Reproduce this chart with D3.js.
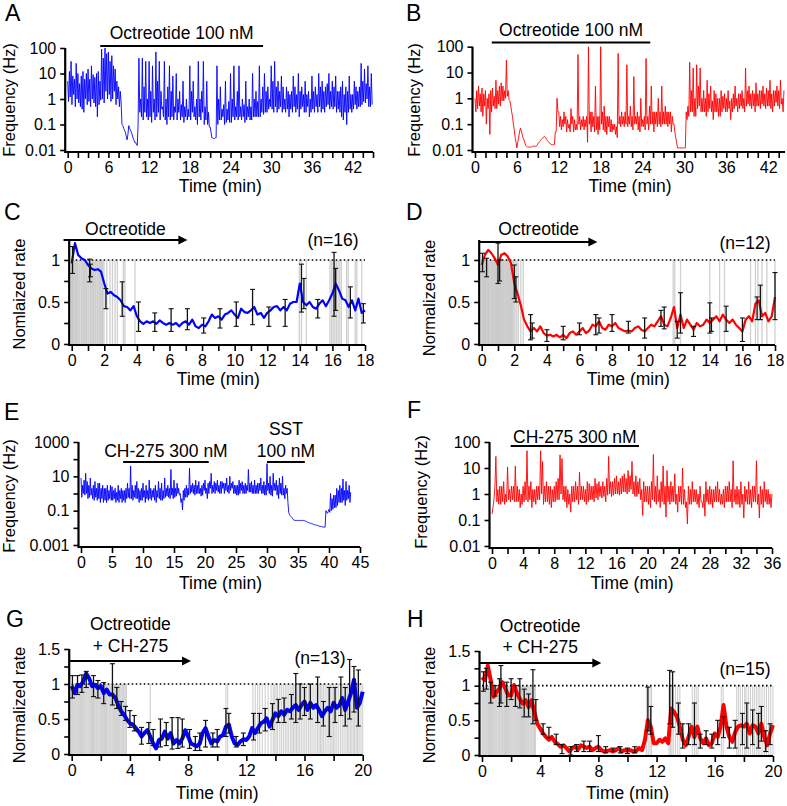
<!DOCTYPE html>
<html><head><meta charset="utf-8">
<script src="https://cdn.jsdelivr.net/npm/d3@7"></script>
<style>body{margin:0;background:#fff} svg{display:block}</style>
</head><body><svg id="c" width="787" height="806"></svg>
<script>
// ================= DATA =================
// Panel A/B/E/F: instantaneous frequency (Hz), sampled every traceStep (min)
const traceStep = 0.125;
const aFreq = [
5,0.8,12,1.2,30,0.6,8,1.5, 6,0.5,25,1,10,0.7,4,0.5, 8,0.4,12,0.3,6,1,10,0.6, 15,0.8,6,0.5,20,1,9,0.7, 7,0.5,10,0.2,12,0.6,5,0.9,
90,1,40,0.7,100,2,60,1, 70,1.5,30,0.8,50,1,20,2, 15,0.6,5,1,3,0.5,2,0.7, 0.1,0.09,0.07,0.06,0.05,0.035,0.025,0.04, 0.09,0.07,0.06,0.05,0.04,0.03,0.025,0.02,
0.02,0.017,0.015,0.1,40,0.3,1,0.2, 40,0.15,3,0.3,30,0.2,1,0.15, 30,0.2,2,0.12,20,0.3,1,0.15, 70,0.2,5,0.3,30,0.15,2,0.4, 0.5,0.2,30,0.15,1,0.1,3,0.2,
20,0.15,2,0.2,8,0.15,0.5,0.3, 10,0.15,1,0.3,2,0.15,0.6,0.2, 5,0.12,0.5,0.2,1,0.15,0.4,0.2, 20,0.15,2,0.3,5,0.2,0.5,0.15, 1,0.1,30,0.2,1,0.15,2,0.3,
30,0.1,0.5,0.15,5,0.1,0.3,0.08, 0.08,0.05,0.03,0.03,0.028,0.028,0.03,0.03, 20,0.1,1,0.15,3,0.15,0.4,0.2, 0.6,0.1,5,0.12,0.4,0.15,0.8,0.12, 10,0.12,1,0.2,20,0.15,0.5,0.2,
2,0.15,20,0.2,0.5,0.15,1,0.2, 0.6,0.12,5,0.15,0.5,0.2,1,0.15, 0.5,0.15,10,0.2,1,0.2,2,0.2, 0.8,0.2,20,0.2,1,0.3,3,0.25, 10,0.3,2,0.3,3,0.4,1,0.5,
20,0.4,5,0.3,30,0.5,3,0.3, 5,0.4,2,0.5,8,0.3,3,0.4, 1,0.3,3,0.4,2,0.2,1.5,0.4, 2,0.3,8,0.5,3,0.3,1.5,0.4, 10,0.2,2,0.4,3,0.5,1.5,0.3,
5,0.3,1.5,0.5,2,0.2,1,0.3, 8,0.4,2,0.3,3,0.5,1.5,0.3, 10,0.5,3,0.3,5,0.4,2,0.3, 3,0.5,4,0.6,10,0.4,2,0.5, 5,0.4,3,0.5,8,0.3,2,0.4,
2,0.3,3,0.2,5,0.15,1.5,0.3, 3,0.1,2,0.3,8,0.4,1.5,0.3, 1.5,0.4,5,0.6,3,0.4,2,0.5, 3,0.5,25,0.6,5,0.8,15,0.7, 4,1,20,0.5,3,0.5,10,0.6
];
const bFreq = [
1,0.3,2,0.4,3,0.5,1.5,0.3, 2.5,0.2,1.5,0.5,2,0.1,1,0.4, 1.5,0.04,2,0.3,2.5,0.5,1.2,0.4, 5,0.4,2,0.6,3,0.5,4,0.8, 3,0.8,2,1,30,1.2,2,0.9,
0.8,0.5,0.3,0.2,0.1,0.06,0.03,0.02, 0.012,0.02,0.03,0.05,0.07,0.055,0.04,0.03, 0.025,0.02,0.015,0.014,0.013,0.013,0.013,0.013, 0.013,0.013,0.014,0.014,0.014,0.014,0.014,0.015, 0.017,0.019,0.021,0.023,0.026,0.028,0.03,0.032,
0.033,0.03,0.026,0.023,0.021,0.019,0.018,0.017, 0.016,0.016,0.016,0.016,0.05,0.05,1,0.3, 0.3,0.08,0.2,0.06,0.15,0.08,0.3,0.1, 0.2,0.05,0.15,0.07,0.1,0.05,0.4,0.1, 0.2,0.05,0.15,0.06,0.1,0.06,50,0.1,
0.2,0.06,0.15,0.08,0.2,0.06,0.15,0.08, 0.2,0.02,100,0.1,0.3,0.05,0.3,0.08, 0.2,0.05,3,0.06,0.2,0.04,0.2,0.06, 100,0.1,0.3,0.06,0.5,0.05,0.2,0.04, 0.2,0.08,0.2,0.05,0.15,0.05,0.1,0.06,
0.1,0.04,0.08,0.03,55,0.1,0.2,0.08, 0.3,0.1,0.2,0.08,0.3,0.1,20,0.08, 0.2,0.1,0.5,0.08,0.2,0.06,7,0.1, 0.2,0.1,0.3,0.06,0.2,0.05,1,0.08, 0.15,0.08,0.2,0.06,35,0.1,0.2,0.06,
0.5,0.1,3,0.1,0.3,0.05,0.3,0.1, 0.3,0.08,1,0.1,0.3,0.08,3,0.1, 0.3,0.1,0.5,0.1,0.3,0.08,0.3,0.1, 0.3,0.05,0.2,0.1,0.1,0.05,0.03,0.02, 0.012,0.012,0.012,0.012,0.012,0.012,0.012,0.012,
0.012,0.012,0.3,0.15,0.5,0.2,25,0.3, 2,0.3,15,0.2,1,0.2,20,0.4, 3,0.5,15,0.3,1,0.3,2,0.3, 1,0.2,5,0.3,1.5,0.4,3,0.3, 0.8,0.15,2,0.3,1.5,0.3,1,0.2,
1,0.2,2,0.3,1.2,0.4,1.5,0.3, 1,0.3,2,0.4,0.8,0.15,1,0.3, 1.5,0.4,3,0.5,1,0.3,1.5,0.4, 1.5,0.5,2,0.4,1,0.3,15,0.5, 2,0.6,3,0.5,1.5,0.4,2,0.5,
1.5,0.3,4,0.5,1.5,0.5,2,0.4, 2,0.6,3,0.5,1.5,0.4,2.5,0.5, 2,0.5,5,0.4,1.5,0.3,2,0.5, 2,0.7,3,0.5,2,0.4,5,0.6, 1,0.3,2
];
const eFreq = [
8,0.6,3,1,6,0.8,15,1, 5,0.5,3,0.6,8,0.8,2,0.5, 3,0.4,5,0.6,2,0.4,4,0.5, 4,0.3,2,0.5,3,0.3,2,0.4, 2,0.3,3,0.4,1.5,0.5,3,0.4,
2.5,0.4,1.5,0.5,2,0.3,1.2,0.4, 3,0.3,1.5,0.5,2,0.3,1.5,0.4, 1.5,0.3,2,0.5,4,0.6,2,0.5, 40,0.5,3,0.4,1.5,0.6,3,0.5, 5,0.5,2,0.3,1.5,0.4,2,0.4,
4,0.6,1.5,0.3,3,0.5,1.5,0.4, 6,0.5,2,0.4,1.5,0.6,2,0.4, 3,0.3,1.5,0.6,5,0.5,2,0.4, 4,0.4,1.5,0.5,8,0.6,2,0.7, 3,0.6,2,0.5,25,0.8,2,0.5,
6,0.6,2,0.7,4,1,2,0.8, 1,0.3,0.5,0.11,1.5,0.4,2,0.6, 3,0.6,2,0.8,30,1,3,1.2, 4,1,3,0.8,6,1,3,1, 5,1,2,0.7,3,0.8,4,1.5,
6,1,2,0.5,4,1,5,2, 15,1,3,1.2,5,1,4,1.5, 6,1.2,3,1,5,1,5,2, 4,1,4,1.5,8,1.2,3,1, 10,1.5,4,2,5,1,3,1,
3,0.8,3,0.8,6,1,4,1.5, 5,1,3,1,4,1,3,1.5, 25,1.2,4,1.2,5,1,3,1, 6,1,3,1,4,1,4,1.5, 8,1,3,1,5,0.8,3,0.8,
55,1.5,4,1,10,0.8,3,0.7, 15,1.5,4,1.5,6,0.8,3,0.5, 8,1,4,0.8,10,0.8,2,0.5, 3,1,2,0.3,0.08,0.06,0.05,0.045, 0.04,0.035,0.03,0.028,0.027,0.027,0.027,0.027,
0.027,0.027,0.027,0.027,0.027,0.027,0.027,0.027, 0.027,0.025,0.024,0.023,0.022,0.021,0.02,0.019, 0.019,0.018,0.017,0.017,0.016,0.015,0.015,0.015, 0.014,0.014,0.013,0.013,0.012,0.012,0.012,0.012, 0.011,0.011,0.011,0.011,0.1,0.08,0.07,0.09,
0.12,0.08,1,0.1,0.5,0.12,0.8,0.15, 0.8,0.15,2,0.2,1.5,0.3,3,0.3, 2,0.3,7,0.4,1.5,0.2,5,0.4, 1.5,0.5,3,0.3,1.2
];
const fFreq = [
0.17,0.3,0.6,2,28,0.5,1.5,0.4, 2,0.4,2,0.5,3,0.4,1,0.5, 11,0.6,1.5,0.5,2,0.6,2,0.5, 12,0.5,2,0.5,1.5,0.3,1,0.4, 2,0.5,3,0.6,46,0.5,2,0.6,
3,0.3,1.5,0.5,1.5,0.4,2,0.6, 2,0.6,46,1,18,0.4,2,0.5, 3,0.5,2,0.4,2,0.3,1.5,0.5, 2,0.5,3,0.6,4,0.6,32,1, 23,0.6,2,0.5,2,0.3,1.5,0.4,
1,0.2,2,0.5,2,0.5,3,0.6, 2,0.4,7,0.6,2,0.6,2,0.5, 1.5,0.4,3,0.5,2.5,0.6,2,0.6, 2,0.5,4,0.7,2.5,0.6,3,0.8, 2,0.7,3,0.8,2,0.5,4,0.9,
28,1,3,0.8,3,0.9,4,1, 5,1,3,0.9,4,1,5,1.2, 6,1.2,4,1,8,1.2,5,1.5, 18,1,3,0.8,5,0.8,3,1, 4,0.6,1.5,0.15,3,0.5,2,0.5,
2,0.4,2,0.3,3,0.6,33,0.5, 2,0.4,5,0.5,1.5,0.3,3,0.5, 12,0.4,2,0.13,8,0.5,2,0.4, 3,0.5,2,0.5,6,0.4,1,0.2, 2,0.5,2,0.4,10,0.4,1.5,0.3,
0.5,0.07,2,0.4,1.5,0.4,3,0.5, 1.5,0.5,1.5,0.4,1,0.3,2,0.5, 0.5,0.3,1,0.14,3,0.5,1.5,0.4, 2,0.4,1.5,0.3,1.5,0.5,2,0.5, 3,0.5,1.5,0.4,1,0.4,1.5,0.3,
2,0.5,2,0.5,3,0.5,1.5,0.3, 19,0.5,1.5,0.4,2,0.4,1.5,0.3, 3,0.4,1,0.12,2,0.5,1.5,0.4, 3,0.4,1.5,0.3,2,0.5,2,0.5, 19,0.4,1,0.12,2,0.4,1.5,0.3,
3,0.5,1.5,0.4,1.5,0.4,1,0.3, 1
];

// Drug application intervals (min)
const aDrug = [4.8, 28.8];
const bDrug = [2.4, 25.1];
const eDrugCH = [6.8, 20.6];
const eDrugSST = [30, 36.1];
const fDrug = [2.4, 18.9];
const cArrow = [-0.5, 7.1];
const dArrow = [-0.1, 7.1];
const gArrow = [-0.12, 8.2];
const hArrow = [-0.2, 8.2];

// Panels C/D/G/H: normalized rate, sampled every rateStep (min)
const rateStep = 0.2;
const cRate = [0.96,1.2,1.06,1.02,1.0,0.94,0.9,0.88,0.89,0.86,0.72,0.6,0.62,0.58,0.56,0.52,0.45,0.44,0.40,0.45,
0.33,0.27,0.24,0.27,0.25,0.27,0.24,0.28,0.25,0.23,0.25,0.23,0.25,0.21,0.25,0.27,0.23,0.29,0.21,0.19,
0.23,0.21,0.27,0.35,0.31,0.33,0.29,0.35,0.37,0.40,0.35,0.31,0.42,0.38,0.37,0.40,0.44,0.35,0.37,0.31,
0.37,0.40,0.44,0.45,0.40,0.44,0.40,0.48,0.50,0.50,0.72,0.50,0.46,0.50,0.44,0.42,0.48,0.52,0.45,0.52,
0.60,0.72,0.64,0.54,0.52,0.44,0.52,0.40,0.54,0.37,0.40];
const dRate = [0.94,1.06,1.12,1.08,1.02, 0.94,1.06,1.08,1.04,0.96, 0.72,0.60,0.46,0.29,0.21, 0.15,0.19,0.15,0.21,0.13,
0.10,0.11,0.09,0.11,0.08, 0.11,0.07,0.13,0.15,0.11, 0.15,0.19,0.13,0.16,0.23, 0.21,0.27,0.19,0.17,0.23,
0.21,0.25,0.19,0.17,0.15, 0.16,0.15,0.19,0.21,0.17, 0.15,0.19,0.23,0.21,0.27, 0.33,0.23,0.21,0.31,0.44,
0.19,0.35,0.19,0.29,0.23, 0.17,0.25,0.21,0.23,0.29, 0.25,0.29,0.33,0.27,0.35, 0.29,0.25,0.29,0.23,0.19,
0.15,0.29,0.33,0.27,0.48, 0.52,0.33,0.37,0.27,0.33, 0.56];
const gRate = [0.97,0.87,0.99,0.97,1.04, 1.15,1.08,0.97,0.99,0.94, 0.97,0.87,0.92,0.85,0.85, 0.80,0.70,0.61,0.56,0.49,
0.44,0.42,0.37,0.32,0.25, 0.30,0.34,0.25,0.15,0.08, 0.20,0.22,0.32,0.22,0.30, 0.15,0.20,0.15,0.22,0.34,
0.25,0.15,0.13,0.11,0.15, 0.30,0.37,0.25,0.15,0.20, 0.18,0.25,0.27,0.39,0.42, 0.25,0.15,0.13,0.18,0.21,
0.20,0.25,0.37,0.30,0.37, 0.44,0.46,0.51,0.39,0.49, 0.58,0.54,0.61,0.56,0.63, 0.61,0.66,0.70,0.63,0.70,
0.75,0.63,0.73,0.66,0.70, 0.63,0.54,0.61,0.66,0.61, 0.73,0.66,0.70,0.80,0.63, 0.75,0.87,1.06,0.66,0.73, 0.89];
const hRate = [1.12,1.08,1.29,1.08,0.84, 0.91,0.96,1.05,0.96,0.86, 0.86,1.01,0.89,0.81,0.74, 0.79,0.69,0.79,0.62,0.45,
0.38,0.31,0.26,0.22,0.26, 0.19,0.16,0.12,0.14,0.10, 0.05,0.10,0.12,0.08,0.14, 0.12,0.10,0.12,0.07,0.10,
0.12,0.07,0.05,0.06,0.07, 0.05,0.07,0.10,0.05,0.07, 0.06,0.07,0.05,0.06,0.10, 0.07,0.22,0.50,0.41,0.17,
0.17,0.22,0.19,0.24,0.17, 0.67,0.62,0.55,0.41,0.22, 0.14,0.26,0.41,0.26,0.41, 0.24,0.17,0.24,0.14,0.17,
0.31,0.26,0.41,0.72,0.41, 0.26,0.19,0.33,0.41,0.43, 0.41,0.45,0.31,0.43,0.41, 0.31,0.45,0.26,0.14,0.31, 0.43];

// Error bars (time, low, high)
const cErrT  = [0.05,1.1,1.15,2.1,3.1,4.1,5.1,6.1,7.1,8.1,9.1,10.1,11.1,12.1,13.1,14.1,14.25,15.1,16.1,16.2,17.1,17.9];
const cErrLo = [0.84,0.74,0.80,0.42,0.33,0.15,0.15,0.15,0.17,0.13,0.19,0.21,0.23,0.21,0.21,0.38,0.42,0.31,0.33,0.40,0.31,0.25];
const cErrHi = [1.16,1.01,0.95,0.66,0.74,0.50,0.37,0.42,0.42,0.31,0.42,0.50,0.65,0.44,0.53,0.95,0.78,0.53,1.09,0.90,0.68,0.48];
const dErrT  = [0.05,0.3,1.0,1.1,2.0,2.1,3.0,3.1,4.0,5.0,6.0,7.0,7.2,8.0,9.0,10.0,11.0,11.2,12.0,12.2,13.0,14.0,14.1,15.0,16.0,16.9,17.1,18.0];
const dErrLo = [0.86,0.80,0.72,0.75,0.54,0.50,0.05,0.07,0.03,0.05,0.11,0.11,0.13,0.15,0.13,0.07,0.21,0.18,0.07,0.13,0.09,0.13,0.15,0.15,0.03,0.29,0.29,0.29];
const dErrHi = [1.08,1.02,1.20,1.00,0.94,0.80,0.35,0.25,0.17,0.21,0.25,0.35,0.31,0.35,0.27,0.31,0.40,0.44,0.27,0.61,0.21,0.49,0.31,0.45,0.31,0.56,0.70,0.85];
const gErrT  = [0.05,0.4,0.7,1.0,1.5,1.8,2.2,2.8,3.1,3.4,3.7,4.0,4.3,4.8,5.3,5.6,6.1,6.5,6.9,7.3,7.6,8.1,8.5,8.8,9.2,9.7,10.0,10.6,10.8,11.3,11.8,12.5,12.9,13.3,13.8,14.2,14.6,15.1,15.4,15.7,16.0,16.4,16.9,17.3,17.7,18.1,18.5,18.8,19.1,19.4,19.7];
const gErrLo = [0.80,0.85,0.88,0.95,0.82,0.80,0.72,0.70,0.65,0.55,0.48,0.38,0.33,0.14,0.15,0.12,0.10,0.12,0.07,0.08,0.10,0.08,0.05,0.05,0.10,0.10,0.10,0.25,0.30,0.10,0.12,0.20,0.30,0.33,0.35,0.45,0.45,0.50,0.45,0.50,0.55,0.50,0.45,0.40,0.25,0.45,0.55,0.40,0.50,0.60,0.40];
const gErrHi = [1.12,1.12,1.13,1.18,1.12,1.05,1.02,1.29,0.95,0.75,0.68,0.62,0.55,0.38,0.45,0.35,0.50,0.45,0.52,0.52,0.50,0.35,0.25,0.30,0.48,0.30,0.35,0.65,0.58,0.25,0.30,0.58,0.58,0.65,0.72,0.78,0.80,0.85,1.15,1.00,0.95,1.00,1.10,0.75,0.95,0.95,1.10,0.95,1.35,1.25,1.20];
const hErrT  = [0.1,0.3,0.6,0.9,1.2,1.3,1.7,2.0,2.3,2.6,2.9,3.2,3.5,3.7,4.2,4.6,5.1,5.5,6.1,6.5,7.0,7.4,8.0,8.5,9.0,9.5,10.0,10.5,11.4,11.6,12.9,13.1,13.5,13.8,14.2,14.6,15.0,15.4,15.8,16.2,16.6,17.0,17.4,17.9,18.2,18.6,19.0,19.2,19.5,19.8];
const hErrLo = [0.92,0.95,0.75,0.85,0.70,0.75,0.70,0.80,0.70,0.68,0.55,0.55,0.45,0.50,0.30,0.25,0.15,0.02,0.00,0.05,0.05,0.05,0.05,0.03,0.05,0.03,0.02,0.03,0.35,0.30,0.45,0.40,0.30,0.10,0.15,0.15,0.10,0.15,0.10,0.15,0.25,0.10,0.10,0.15,0.10,0.15,0.10,0.20,0.05,0.15];
const hErrHi = [1.20,1.25,1.05,1.00,1.10,1.29,1.05,1.10,1.00,1.10,0.95,0.88,1.23,0.80,0.45,0.40,0.30,0.15,0.12,0.15,0.20,0.20,0.28,0.12,0.10,0.12,0.10,0.12,0.98,0.70,1.22,1.20,0.75,0.45,0.45,0.75,0.30,0.35,0.30,0.50,0.55,0.40,0.50,0.60,0.75,0.65,0.60,0.70,0.35,0.45];

// Grey vertical markers (min)
const cGray = [0,0.04,0.1,0.17,0.24,0.3,0.36,0.44,0.5,0.58,0.64,0.72,0.78,0.86,0.92,1.0,1.06,1.14,1.2,1.28,1.34,1.42,1.48,1.56,1.62,1.7,1.76,1.84,1.9,1.98,2.15,2.35,2.5,2.66,2.8,3.17,3.27,3.88,13.97,14.1,14.4,15.85,15.95,16.05,16.15,16.25,16.35,16.45,16.55,16.87,16.97,17.4,17.5,17.8];
const dGray = [0,0.05,0.11,0.17,0.22,0.28,0.34,0.4,0.45,0.51,0.57,0.63,0.68,0.74,0.8,0.86,0.91,0.97,1.03,1.09,1.14,1.2,1.26,1.32,1.37,1.43,1.49,1.55,1.6,1.66,1.72,1.78,1.83,1.9,1.97,2.05,2.15,2.25,2.4,2.55,11.75,11.85,12.2,14.0,14.6,14.9,16.5,16.8,16.95,17.2,17.5,18.0];
const gGray = [0,0.07,0.15,0.22,0.3,0.37,0.45,0.52,0.6,0.68,0.75,0.83,0.9,0.98,1.05,1.13,1.2,1.28,1.36,1.43,1.5,1.58,1.66,1.73,1.8,1.88,1.96,2.03,2.1,2.18,2.26,2.33,2.4,2.48,2.56,2.63,2.7,2.78,2.86,2.93,3.0,3.08,3.16,3.23,3.3,3.38,3.46,3.53,3.6,3.68,3.76,
5.4,10.6,10.72,12.45,12.62,12.78,12.92,13.1,13.3,13.5,13.7,13.85,13.95,14.05,14.15,14.3,14.42,14.55,14.68,14.8,14.92,15.05,15.15,15.25,15.35,15.45,15.55,15.65,15.78,15.9,16.02,16.15,16.28,16.4,16.52,16.65,16.78,16.9,17.0,17.1,17.2,17.3,17.42,17.55,17.68,17.8,17.9,18.0,18.1,18.22,18.35,18.48,18.6,18.72,18.85,18.95,19.05,19.15,19.25,19.35,19.45,19.55,19.65,19.75,19.88,20.0];
const hGray = [0,0.07,0.14,0.22,0.29,0.36,0.44,0.51,0.58,0.66,0.73,0.8,0.88,0.95,1.02,1.1,1.17,1.24,1.32,1.39,1.46,1.54,1.61,1.68,1.76,1.83,1.9,1.98,2.05,2.12,2.2,2.27,2.34,2.42,2.49,2.56,2.64,2.71,2.78,2.86,2.93,3.0,3.08,3.15,3.22,3.3,3.37,3.44,3.52,3.6,3.67,
11.3,11.42,11.55,11.65,12.85,12.95,13.05,13.15,13.3,13.45,13.6,14.45,14.6,14.72,14.85,16.45,16.58,17.5,17.62,17.75,17.9,18.05,18.15,18.3,18.45,18.6,18.72,18.85,18.98,19.1,19.25,19.4,19.55,19.7,19.85,20.0];

// Tick labels
const abXLabels = [0,6,12,18,24,30,36,42];
const abYLabels = [0.01,0.1,1,10,100];
const eXLabels = [0,5,10,15,20,25,30,35,40,45];
const eYLabels = [0.001,0.1,10,1000];
const fXLabels = [0,4,8,12,16,20,24,28,32,36];
const fYLabels = [0.01,0.1,1,10,100];
const cdXLabels = [0,2,4,6,8,10,12,14,16,18];
const cdYLabels = [0,0.5,1];
const ghXLabels = [0,4,8,12,16,20];
const ghYLabels = [0,0.5,1,1.5];

// ================= DRAWING =================
const FONT = '"Liberation Sans", Arial, Helvetica, sans-serif';
const TICK_FS = 16, XT_FS = 17.5, YT_FS = 16.5, ANN_FS = 17.5;
const svg = d3.select("#c");
const BLUE = "#0000ff", RED = "#ff0000";

function txt(t, x, y, size, anchor, rot) {
  const el = svg.append("text").text(t).attr("font-family", FONT).attr("font-size", size)
    .attr("fill", "#000").attr("text-anchor", anchor || "middle");
  if (rot) el.attr("transform", `translate(${x},${y}) rotate(-90)`);
  else el.attr("x", x).attr("y", y);
  return el;
}

function panel(p) {
  const x = d3.scaleLinear().domain(p.xDomain).range(p.xRange);
  const y = (p.log ? d3.scaleLog() : d3.scaleLinear()).domain(p.yDomain).range(p.yRange);
  const axX = p.xRange[0] - 2.5;
  const axY = p.axY;
  const layer = svg.append("g");
  const axes = svg.append("g");
  const xa = d3.axisBottom(x).tickValues(p.xTicks).tickSize(6).tickPadding(4).tickSizeOuter(0)
    .tickFormat(d => p.xLabels.some(v => Math.abs(v - d) < 1e-9) ? String(d) : "");
  const gx = axes.append("g").attr("transform", `translate(0,${axY})`).call(xa);
  gx.select(".domain").remove();
  gx.selectAll(".tick line").attr("stroke", "#000").attr("stroke-width", 1.6);
  gx.selectAll("text").attr("font-size", TICK_FS).attr("font-family", FONT).attr("fill", "#000");
  axes.append("line").attr("x1", axX).attr("x2", p.xEnd).attr("y1", axY).attr("y2", axY)
    .attr("stroke", "#000").attr("stroke-width", 2.2);
  const ya = d3.axisLeft(y).tickValues(p.yTicks).tickSize(5).tickPadding(4).tickSizeOuter(0)
    .tickFormat(d => p.yLabels.some(v => Math.abs(v - d) < 1e-12) ? String(d) : "");
  const gy = axes.append("g").attr("transform", `translate(${axX},0)`).call(ya);
  gy.select(".domain").remove();
  gy.selectAll(".tick line").attr("stroke", "#000").attr("stroke-width", 1.6);
  gy.selectAll("text").attr("font-size", TICK_FS).attr("font-family", FONT).attr("fill", "#000");
  axes.append("line").attr("x1", axX).attr("x2", axX).attr("y1", p.yTop).attr("y2", axY + 1.1)
    .attr("stroke", "#000").attr("stroke-width", 2.2);
  txt("Time (min)", (p.xRange[0] + p.xRange[1]) / 2, p.xTitleY, XT_FS);
  txt(p.yTitle, p.yTitleX, p.yTitleY, YT_FS, "middle", true);
  txt(p.letter, p.letterX, p.letterY, 23, "start");
  return { x, y, layer };
}

function freqTrace(P, vals, color) {
  const line = d3.line().x((d, i) => P.x(i * traceStep)).y(d => P.y(d));
  P.layer.append("path").datum(vals).attr("d", line).attr("fill", "none")
    .attr("stroke", color).attr("stroke-width", 0.9).attr("stroke-linejoin", "miter").attr("stroke-miterlimit", 2);
}

function drugBar(P, iv, yPix, label, labelY) {
  svg.append("line").attr("x1", P.x(iv[0])).attr("x2", P.x(iv[1])).attr("y1", yPix).attr("y2", yPix)
    .attr("stroke", "#000").attr("stroke-width", 2);
  if (label) txt(label, P.x((iv[0] + iv[1]) / 2), labelY, ANN_FS);
}

function arrow(P, iv, yPix) {
  const x1 = P.x(iv[0]), x2 = P.x(iv[1]);
  svg.append("line").attr("x1", x1).attr("x2", x2 - 6).attr("y1", yPix).attr("y2", yPix)
    .attr("stroke", "#000").attr("stroke-width", 2);
  svg.append("path").attr("d", `M${x2},${yPix} L${x2 - 9},${yPix - 4.5} L${x2 - 9},${yPix + 4.5} Z`).attr("fill", "#000");
}

function ratePanel(P, gray, rate, eT, eLo, eHi, color, lw, xMax, gw) {
  const L = P.layer;
  L.selectAll(null).data(gray).join("line")
    .attr("x1", d => P.x(d)).attr("x2", d => P.x(d)).attr("y1", P.y(0)).attr("y2", P.y(1))
    .attr("stroke", "#bcbcbc").attr("stroke-width", gw).attr("stroke-opacity", 0.7);
  L.append("line").attr("x1", P.x(0)).attr("x2", P.x(xMax)).attr("y1", P.y(1)).attr("y2", P.y(1))
    .attr("stroke", "#000").attr("stroke-width", 1.6).attr("stroke-dasharray", "1.6,2.4");
  const line = d3.line().x((d, i) => P.x(i * rateStep)).y(d => P.y(d));
  L.append("path").datum(rate).attr("d", line).attr("fill", "none").attr("stroke", color)
    .attr("stroke-width", lw).attr("stroke-linejoin", "round");
  const eb = L.selectAll(null).data(eT.map((t, i) => ({ t, lo: eLo[i], hi: eHi[i] }))).join("g");
  eb.append("line").attr("x1", d => P.x(d.t)).attr("x2", d => P.x(d.t)).attr("y1", d => P.y(d.lo)).attr("y2", d => P.y(d.hi))
    .attr("stroke", "#111").attr("stroke-width", 1.3);
  eb.append("line").attr("x1", d => P.x(d.t) - 2.5).attr("x2", d => P.x(d.t) + 2.5).attr("y1", d => P.y(d.lo)).attr("y2", d => P.y(d.lo))
    .attr("stroke", "#111").attr("stroke-width", 1.1);
  eb.append("line").attr("x1", d => P.x(d.t) - 2.5).attr("x2", d => P.x(d.t) + 2.5).attr("y1", d => P.y(d.hi)).attr("y2", d => P.y(d.hi))
    .attr("stroke", "#111").attr("stroke-width", 1.1);
}

const logDecades = (lo, hi) => { const r = []; for (let v = lo; v <= hi * 1.0001; v *= 10) r.push(+v.toPrecision(3)); return r; };

// ---- A ----
const PA = panel({ xDomain: [0, 45], xRange: [67.7, 373], xEnd: 373, log: true, yDomain: [0.01, 100], yRange: [150, 48],
  axY: 152, yTop: 48, xTicks: d3.range(0, 45.01, 1.5), xLabels: abXLabels, yTicks: logDecades(0.01, 100), yLabels: abYLabels,
  xTitleY: 192, yTitle: "Frequency (Hz)", yTitleX: 15, yTitleY: 100, letter: "A", letterX: 5, letterY: 21 });
freqTrace(PA, aFreq, BLUE);
drugBar(PA, aDrug, 46, "Octreotide 100 nM", 39);

// ---- B ----
const PB = panel({ xDomain: [0, 44.4], xRange: [475, 785], xEnd: 785, log: true, yDomain: [0.01, 100], yRange: [150, 46.7],
  axY: 152, yTop: 46.7, xTicks: d3.range(0, 44, 1.5), xLabels: abXLabels, yTicks: logDecades(0.01, 100), yLabels: abYLabels,
  xTitleY: 192, yTitle: "Frequency (Hz)", yTitleX: 420, yTitleY: 100, letter: "B", letterX: 406, letterY: 21 });
freqTrace(PB, bFreq, RED);
drugBar(PB, bDrug, 42.5, "Octreotide 100 nM", 36);

// ---- C ----
const PC = panel({ xDomain: [0, 18], xRange: [71.7, 365], xEnd: 365, log: false, yDomain: [0, 1.24], yRange: [344, 239.8],
  axY: 345, yTop: 240, xTicks: d3.range(0, 18.01, 1), xLabels: cdXLabels, yTicks: [0, 0.25, 0.5, 0.75, 1], yLabels: cdYLabels,
  xTitleY: 385, yTitle: "Nomlaized rate", yTitleX: 25, yTitleY: 294, letter: "C", letterX: 4, letterY: 220 });
ratePanel(PC, cGray, cRate, cErrT, cErrLo, cErrHi, BLUE, 2.2, 18, 1.3);
arrow(PC, cArrow, 240);
txt("Octreotide", PC.x((cArrow[0] + cArrow[1]) / 2), 235, ANN_FS);
txt("(n=16)", 333, 246, ANN_FS);

// ---- D ----
const PD = panel({ xDomain: [0, 18], xRange: [481.7, 775], xEnd: 775, log: false, yDomain: [0, 1.24], yRange: [344, 239.8],
  axY: 345, yTop: 240, xTicks: d3.range(0, 18.01, 1), xLabels: cdXLabels, yTicks: [0, 0.25, 0.5, 0.75, 1], yLabels: cdYLabels,
  xTitleY: 385, yTitle: "Normalized rate", yTitleX: 435, yTitleY: 298, letter: "D", letterX: 406, letterY: 220 });
ratePanel(PD, dGray, dRate, dErrT, dErrLo, dErrHi, RED, 2.2, 18, 1.3);
arrow(PD, dArrow, 242);
txt("Octreotide", PD.x((dArrow[0] + dArrow[1]) / 2), 235, ANN_FS);
txt("(n=12)", 745, 249, ANN_FS);

// ---- E ----
const PE = panel({ xDomain: [0, 45], xRange: [81, 360], xEnd: 360, log: true, yDomain: [0.001, 1000], yRange: [545, 442],
  axY: 547, yTop: 442, xTicks: d3.range(0, 45.01, 5), xLabels: eXLabels, yTicks: logDecades(0.001, 1000), yLabels: eYLabels,
  xTitleY: 589, yTitle: "Frequency (Hz)", yTitleX: 15, yTitleY: 496, letter: "E", letterX: 4, letterY: 420 });
freqTrace(PE, eFreq, BLUE);
drugBar(PE, eDrugCH, 462, "CH-275 300 nM", 457);
drugBar(PE, eDrugSST, 462, "100 nM", 457);
txt("SST", PE.x((eDrugSST[0] + eDrugSST[1]) / 2), 435, ANN_FS);

// ---- F ----
const PF = panel({ xDomain: [0, 36], xRange: [492, 772], xEnd: 772, log: true, yDomain: [0.01, 100], yRange: [546, 442],
  axY: 548, yTop: 442, xTicks: d3.range(0, 36.01, 2), xLabels: fXLabels, yTicks: logDecades(0.01, 100), yLabels: fYLabels,
  xTitleY: 589, yTitle: "Frequency (Hz)", yTitleX: 427, yTitleY: 492, letter: "F", letterX: 407, letterY: 418 });
freqTrace(PF, fFreq, RED);
drugBar(PF, fDrug, 446, "CH-275 300 nM", 443);

// ---- G ----
const PG = panel({ xDomain: [0, 20], xRange: [71.7, 362.7], xEnd: 362.7, log: false, yDomain: [0, 1.5], yRange: [754, 649],
  axY: 755, yTop: 649, xTicks: d3.range(0, 20.01, 2), xLabels: ghXLabels, yTicks: [0, 0.25, 0.5, 0.75, 1, 1.25, 1.5], yLabels: ghYLabels,
  xTitleY: 799, yTitle: "Normalized rate", yTitleX: 25, yTitleY: 705, letter: "G", letterX: 6, letterY: 627 });
ratePanel(PG, gGray, gRate, gErrT, gErrLo, gErrHi, BLUE, 4, 20, 1.1);
arrow(PG, gArrow, 661);
txt("Octreotide", PG.x((gArrow[0] + gArrow[1]) / 2), 630, ANN_FS);
txt("+ CH-275", PG.x((gArrow[0] + gArrow[1]) / 2), 652, ANN_FS);
txt("(n=13)", 320, 664, ANN_FS);

// ---- H ----
const PH = panel({ xDomain: [0, 20], xRange: [482, 773], xEnd: 773, log: false, yDomain: [0, 1.5], yRange: [755, 651],
  axY: 756, yTop: 651, xTicks: d3.range(0, 20.01, 2), xLabels: ghXLabels, yTicks: [0, 0.25, 0.5, 0.75, 1, 1.25, 1.5], yLabels: ghYLabels,
  xTitleY: 799, yTitle: "Normalized rate", yTitleX: 435, yTitleY: 705, letter: "H", letterX: 407, letterY: 627 });
ratePanel(PH, hGray, hRate, hErrT, hErrLo, hErrHi, RED, 4, 20, 1.1);
arrow(PH, hArrow, 663);
txt("Octreotide", PH.x((hArrow[0] + hArrow[1]) / 2), 632, ANN_FS);
txt("+ CH-275", PH.x((hArrow[0] + hArrow[1]) / 2), 653, ANN_FS);
txt("(n=15)", 745, 675, ANN_FS);
</script></body></html>
